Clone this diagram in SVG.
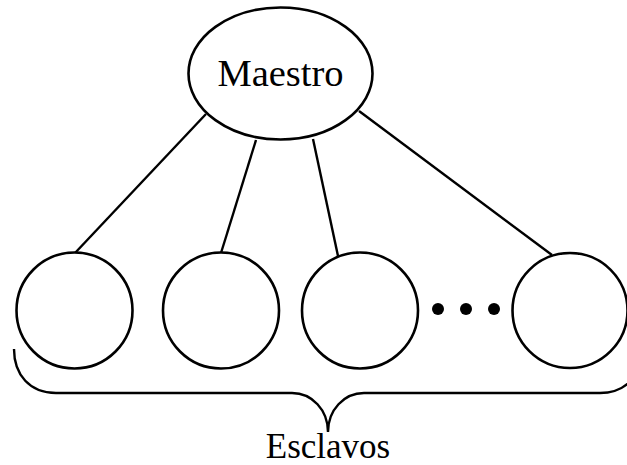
<svg xmlns="http://www.w3.org/2000/svg" width="627" height="465" viewBox="0 0 627 465">
  <style>
    .shape { fill: #ffffff; stroke: #000000; stroke-width: 2.6; }
    .link { stroke: #000000; stroke-width: 2.4; fill: none; }
    .label { font-family: "Liberation Serif", "Times New Roman", serif; fill: #000000; text-anchor: middle; }
    .dot { fill: #000000; }
  </style>
  <rect width="627" height="465" fill="#ffffff"/>

  <!-- connectors from the master to the slaves -->
  <g id="connectors">
    <line class="link" x1="206" y1="114" x2="75" y2="253"/>
    <line class="link" x1="256" y1="140" x2="221" y2="253"/>
    <line class="link" x1="313" y1="139" x2="338" y2="256"/>
    <line class="link" x1="359" y1="111" x2="552" y2="255"/>
  </g>

  <g id="maestro">
    <ellipse class="shape" cx="280.5" cy="73.5" rx="92" ry="66"/>
    <text class="label" x="280.5" y="86" font-size="38.5">Maestro</text>
  </g>

  <g id="esclavo1">
    <circle class="shape" cx="74.5" cy="310.5" r="58"/>
  </g>
  <g id="esclavo2">
    <circle class="shape" cx="221" cy="310.5" r="58"/>
  </g>
  <g id="esclavo3">
    <circle class="shape" cx="360" cy="310.5" r="58"/>
  </g>
  <g id="esclavo4">
    <circle class="shape" cx="570" cy="310.5" r="57.5"/>
  </g>

  <!-- ellipsis between the third and last slave -->
  <g id="puntos">
    <circle class="dot" cx="438" cy="309" r="6"/>
    <circle class="dot" cx="466" cy="309" r="6"/>
    <circle class="dot" cx="494" cy="309" r="6"/>
  </g>

  <!-- brace grouping the slaves -->
  <g id="llave">
    <path class="link" d="M14,349 C14,375 30,393 56,393 L292,393 C312,393 328,410 328,432 C328,410 344,393 364,393 L600,393 C626,393 642,375 642,349"/>
    <text class="label" x="328" y="458" font-size="35">Esclavos</text>
  </g>
</svg>
